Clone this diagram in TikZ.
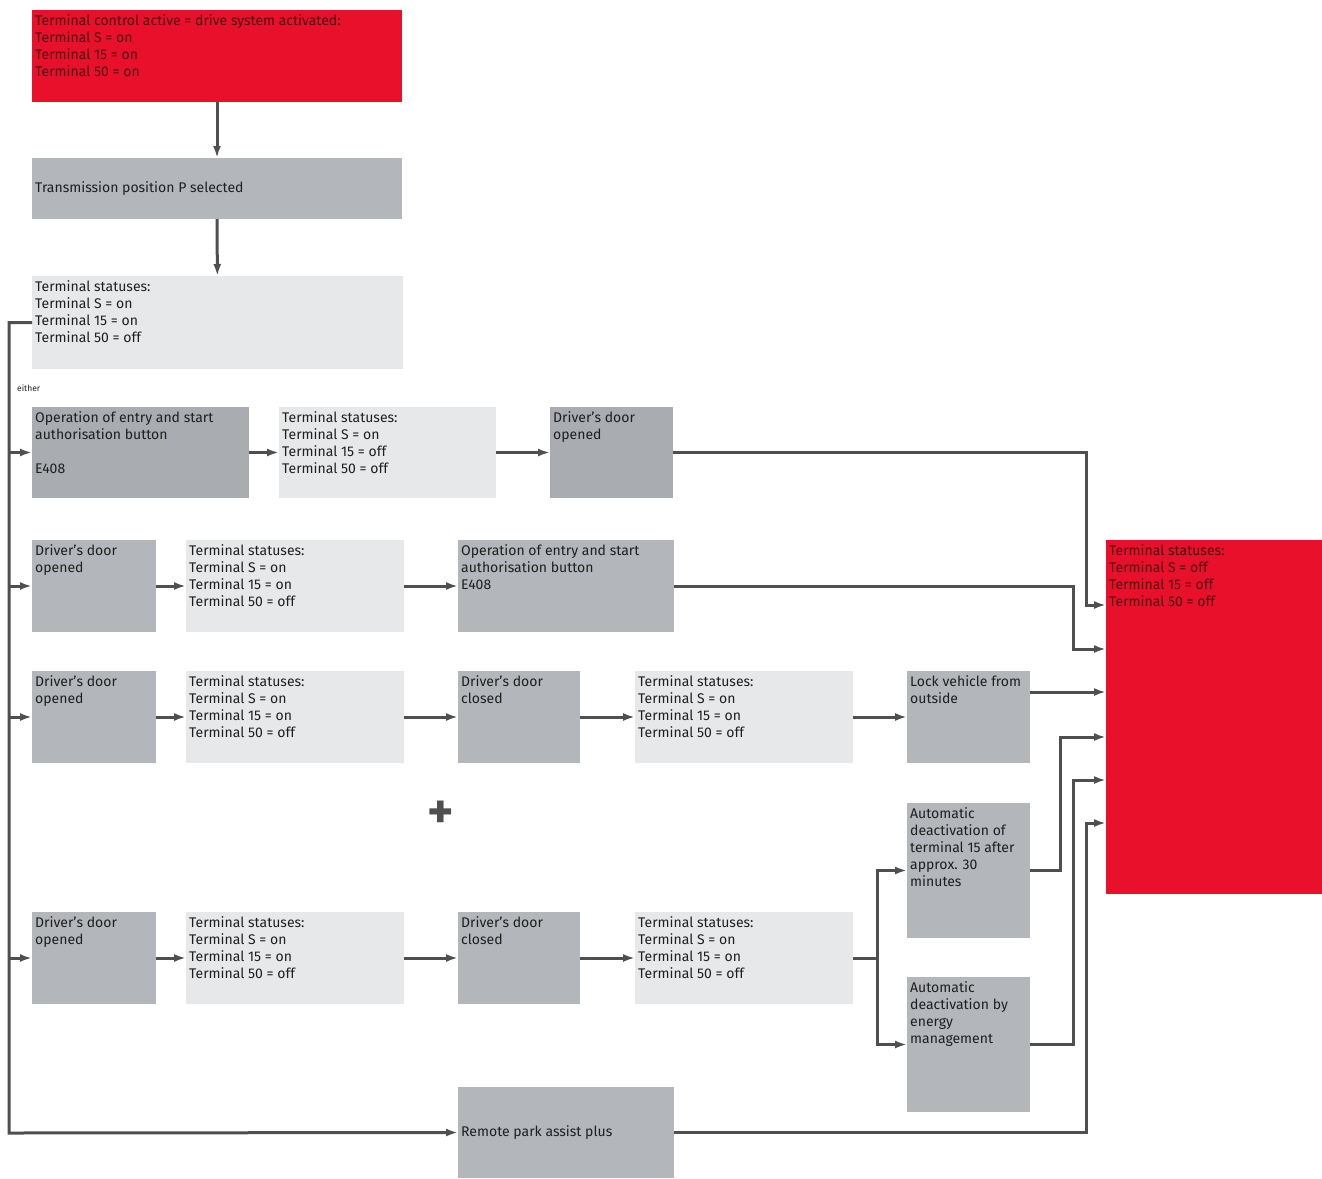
\documentclass[tikz,border=0pt]{standalone}
\usepackage{fontspec}
\setmainfont{Fira Sans}
\usetikzlibrary{positioning,calc,arrows.meta}
\definecolor{audired}{HTML}{E8102A}
\definecolor{redtxt}{HTML}{4A0A12}
\definecolor{darkg}{HTML}{A9ACB0}
\definecolor{midg}{HTML}{B3B6BA}
\definecolor{lightg}{HTML}{E7E8EA}
\definecolor{lineg}{HTML}{4F4F4F}
\definecolor{txtg}{HTML}{1F1F1F}
\newcommand{\fs}{\fontsize{14}{17}\selectfont}
\tikzset{
  fl/.style   = {line width=3pt, draw=lineg},
  arr/.style  = {fl, -{Latex[length=12pt,width=8pt]}},
  box/.style  = {anchor=north west, inner sep=0pt, outer sep=0pt},
  rbox/.style = {box, fill=audired},
  dbox/.style = {box, fill=darkg},
  gbox/.style = {box, fill=midg},
  lbox/.style = {box, fill=lightg},
  txt/.style  = {anchor=north west, align=left, inner xsep=3pt, inner ysep=4.5pt,
                 font=\fs, text=txtg},
  ctxt/.style = {txt, anchor=west, inner ysep=0pt},
  rtxt/.style = {txt, text=redtxt},
}

\begin{document}
\begin{tikzpicture}[x=1pt, y=-1pt]
  \useasboundingbox (0,0) rectangle (1322,1178);

  % top chain
  \node[rbox, minimum width=370, minimum height=92] (act) at (32,10) {};
  \node[rtxt] (act-t) at (act.north west)
    {Terminal control active = drive system activated:\\Terminal S = on\\Terminal 15 = on\\Terminal 50 = on};
  \node[gbox, minimum width=370, minimum height=61] (trans) at (32,158) {};
  \node[ctxt] (trans-t) at (trans.west) {Transmission position P selected};
  \node[lbox, minimum width=371, minimum height=93] (st0) at (32,276) {};
  \node[txt] (st0-t) at (st0.north west)
    {Terminal statuses:\\Terminal S = on\\Terminal 15 = on\\Terminal 50 = off};
  \node[anchor=west, inner sep=0pt, font=\fontsize{8.5}{9}\selectfont, text=txtg] (either) at (17,388) {either};

  % row 1
  \node[dbox, minimum width=217, minimum height=91] (opa) at (32,407) {};
  \node[txt] (opa-t) at (opa.north west)
    {Operation of entry and start\\authorisation button\\[17pt]E408};
  \node[lbox, minimum width=217, minimum height=91] (st1) at (279,407) {};
  \node[txt] (st1-t) at (st1.north west)
    {Terminal statuses:\\Terminal S = on\\Terminal 15 = off\\Terminal 50 = off};
  \node[dbox, minimum width=123, minimum height=91] (door1) at (550,407) {};
  \node[txt] (door1-t) at (door1.north west) {Driver’s door\\opened};

  % row 2
  \node[gbox, minimum width=124, minimum height=92] (door2) at (32,540) {};
  \node[txt] (door2-t) at (door2.north west) {Driver’s door\\opened};
  \node[lbox, minimum width=218, minimum height=92] (st2) at (186,540) {};
  \node[txt] (st2-t) at (st2.north west)
    {Terminal statuses:\\Terminal S = on\\Terminal 15 = on\\Terminal 50 = off};
  \node[gbox, minimum width=216, minimum height=92] (opb) at (458,540) {};
  \node[txt] (opb-t) at (opb.north west)
    {Operation of entry and start\\authorisation button\\E408};

  % row 3
  \node[gbox, minimum width=124, minimum height=92] (door3) at (32,671) {};
  \node[txt] (door3-t) at (door3.north west) {Driver’s door\\opened};
  \node[lbox, minimum width=218, minimum height=92] (st3) at (186,671) {};
  \node[txt] (st3-t) at (st3.north west)
    {Terminal statuses:\\Terminal S = on\\Terminal 15 = on\\Terminal 50 = off};
  \node[gbox, minimum width=122, minimum height=92] (close3) at (458,671) {};
  \node[txt] (close3-t) at (close3.north west) {Driver’s door\\closed};
  \node[lbox, minimum width=218, minimum height=92] (st3b) at (635,671) {};
  \node[txt] (st3b-t) at (st3b.north west)
    {Terminal statuses:\\Terminal S = on\\Terminal 15 = on\\Terminal 50 = off};
  \node[gbox, minimum width=123, minimum height=92] (lock) at (907,671) {};
  \node[txt] (lock-t) at (lock.north west) {Lock vehicle from\\outside};

  \node[font=\fontsize{50}{50}\selectfont\bfseries, text=lineg, inner sep=0pt] (plus) at (441,815) {+};

  % row 4
  \node[gbox, minimum width=124, minimum height=92] (door4) at (32,912) {};
  \node[txt] (door4-t) at (door4.north west) {Driver’s door\\opened};
  \node[lbox, minimum width=218, minimum height=92] (st4) at (186,912) {};
  \node[txt] (st4-t) at (st4.north west)
    {Terminal statuses:\\Terminal S = on\\Terminal 15 = on\\Terminal 50 = off};
  \node[gbox, minimum width=122, minimum height=92] (close4) at (458,912) {};
  \node[txt] (close4-t) at (close4.north west) {Driver’s door\\closed};
  \node[lbox, minimum width=218, minimum height=92] (st4b) at (635,912) {};
  \node[txt] (st4b-t) at (st4b.north west)
    {Terminal statuses:\\Terminal S = on\\Terminal 15 = on\\Terminal 50 = off};
  \node[gbox, minimum width=123, minimum height=135] (auto1) at (907,803) {};
  \node[txt] (auto1-t) at (auto1.north west)
    {Automatic\\deactivation of\\terminal 15 after\\approx. 30\\minutes};
  \node[gbox, minimum width=123, minimum height=135] (auto2) at (907,977) {};
  \node[txt] (auto2-t) at (auto2.north west)
    {Automatic\\deactivation by\\energy\\management};

  % row 5
  \node[gbox, minimum width=216, minimum height=91] (remote) at (458,1087) {};
  \node[ctxt] (remote-t) at (remote.west) {Remote park assist plus};

  % end state
  \node[rbox, minimum width=216, minimum height=354] (off) at (1106,540) {};
  \node[rtxt] (off-t) at (off.north west)
    {Terminal statuses:\\Terminal S = off\\Terminal 15 = off\\Terminal 50 = off};
  \coordinate (in1) at ([yshift=-65pt]off.north west);
  \coordinate (in2) at ([yshift=-109pt]off.north west);
  \coordinate (in3) at ([yshift=-152pt]off.north west);
  \coordinate (in4) at ([yshift=-197pt]off.north west);
  \coordinate (in5) at ([yshift=-240pt]off.north west);
  \coordinate (in6) at ([yshift=-283pt]off.north west);
  \coordinate (bus) at (9,1133);

  % connectors
  \draw[arr] (act) -- (trans);
  \draw[arr] (trans) -- (st0);
  \draw[arr] (st0.west) -| (bus) -- (remote.west);
  \draw[arr] (bus |- opa.west) -- (opa.west);
  \draw[arr] (bus |- door2.west) -- (door2.west);
  \draw[arr] (bus |- door3.west) -- (door3.west);
  \draw[arr] (bus |- door4.west) -- (door4.west);

  \draw[arr] (opa) -- (st1);
  \draw[arr] (st1) -- (door1);
  \draw[arr] (door2) -- (st2);
  \draw[arr] (st2) -- (opb);
  \draw[arr] (door3) -- (st3);
  \draw[arr] (st3) -- (close3);
  \draw[arr] (close3) -- (st3b);
  \draw[arr] (st3b) -- (lock);
  \draw[arr] (door4) -- (st4);
  \draw[arr] (st4) -- (close4);
  \draw[arr] (close4) -- (st4b);
  \draw[fl] (st4b.east) -- ++(24,0) coordinate (split);
  \draw[arr] (split) |- (auto1.west);
  \draw[arr] (split) |- (auto2.west);

  \draw[arr] (door1.east) -| ([xshift=-20pt]in1) -- (in1);
  \draw[arr] (opb.east) -| ([xshift=-33pt]in2) -- (in2);
  \draw[arr] ([yshift=25pt]lock.east) -- (in3);
  \draw[arr] (auto1.east) -| ([xshift=-46pt]in4) -- (in4);
  \draw[arr] (auto2.east) -| ([xshift=-33pt]in5) -- (in5);
  \draw[arr] (remote.east) -| ([xshift=-20pt]in6) -- (in6);
\end{tikzpicture}
\end{document}
